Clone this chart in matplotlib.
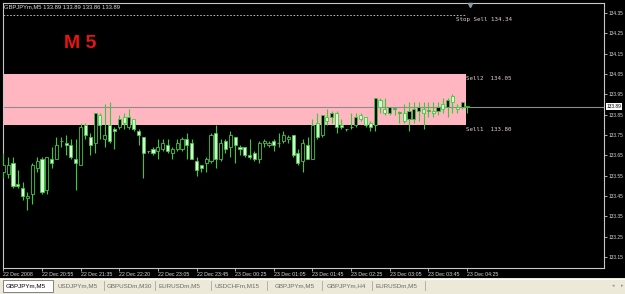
import matplotlib
matplotlib.use('Agg')
import matplotlib.pyplot as plt
from matplotlib.patches import Rectangle
import matplotlib.transforms as mtransforms
import numpy as np

# GBPJPYm, M5 candles
opens = [133.57, 133.56, 133.61, 133.51, 133.49, 133.44, 133.46, 133.59, 133.63, 133.48,
         133.63, 133.63, 133.72, 133.71, 133.70, 133.63, 133.60, 133.80, 133.74, 133.71,
         133.85, 133.73, 133.80, 133.78, 133.79, 133.84, 133.79, 133.83, 133.77, 133.74,
         133.67, 133.68, 133.67, 133.68, 133.70, 133.66, 133.68, 133.68, 133.73, 133.71,
         133.62, 133.60, 133.61, 133.62, 133.76, 133.63, 133.72, 133.69, 133.74, 133.69,
         133.69, 133.65, 133.66, 133.63, 133.71, 133.70, 133.72, 133.71, 133.72, 133.73,
         133.75, 133.66, 133.62, 133.70, 133.63, 133.81, 133.75, 133.84, 133.84, 133.86,
         133.80, 133.78, 133.79, 133.80, 133.85, 133.84, 133.81, 133.80, 133.92, 133.88,
         133.86, 133.88, 133.86, 133.86, 133.83, 133.83, 133.87, 133.88, 133.87, 133.87,
         133.87, 133.90, 133.89, 133.94, 133.89, 133.89, 133.89]
highs = [133.66, 133.64, 133.64, 133.58, 133.52, 133.47, 133.61, 133.64, 133.64, 133.64,
         133.69, 133.74, 133.74, 133.75, 133.73, 133.73, 133.81, 133.81, 133.76, 133.86,
         133.86, 133.90, 133.91, 133.79, 133.85, 133.86, 133.88, 133.83, 133.78, 133.74,
         133.67, 133.69, 133.73, 133.73, 133.73, 133.69, 133.73, 133.74, 133.76, 133.73,
         133.64, 133.60, 133.64, 133.76, 133.80, 133.73, 133.73, 133.77, 133.74, 133.70,
         133.69, 133.73, 133.67, 133.72, 133.73, 133.72, 133.73, 133.76, 133.77, 133.75,
         133.75, 133.68, 133.73, 133.74, 133.83, 133.86, 133.85, 133.88, 133.87, 133.87,
         133.83, 133.78, 133.86, 133.86, 133.86, 133.84, 133.82, 133.93, 133.93, 133.93,
         133.89, 133.88, 133.87, 133.90, 133.91, 133.91, 133.91, 133.91, 133.91, 133.91,
         133.91, 133.93, 133.93, 133.95, 133.90, 133.91, 133.89]
lows = [133.54, 133.54, 133.49, 133.49, 133.43, 133.38, 133.41, 133.57, 133.46, 133.46,
        133.59, 133.63, 133.69, 133.65, 133.63, 133.48, 133.60, 133.73, 133.65, 133.66,
        133.73, 133.69, 133.71, 133.68, 133.78, 133.78, 133.78, 133.77, 133.70, 133.54,
        133.66, 133.65, 133.63, 133.67, 133.66, 133.63, 133.67, 133.67, 133.63, 133.63,
        133.55, 133.57, 133.57, 133.61, 133.59, 133.62, 133.66, 133.64, 133.61, 133.65,
        133.64, 133.63, 133.62, 133.61, 133.69, 133.69, 133.67, 133.69, 133.71, 133.71,
        133.64, 133.60, 133.57, 133.63, 133.63, 133.73, 133.74, 133.80, 133.81, 133.76,
        133.78, 133.77, 133.78, 133.79, 133.82, 133.79, 133.77, 133.77, 133.86, 133.85,
        133.85, 133.85, 133.81, 133.81, 133.77, 133.81, 133.82, 133.78, 133.84, 133.84,
        133.85, 133.86, 133.84, 133.86, 133.86, 133.88, 133.86]
closes = [133.60, 133.60, 133.50, 133.50, 133.45, 133.45, 133.60, 133.62, 133.47, 133.64,
          133.61, 133.70, 133.72, 133.70, 133.64, 133.61, 133.79, 133.75, 133.70, 133.86,
          133.80, 133.75, 133.72, 133.77, 133.83, 133.81, 133.84, 133.78, 133.75, 133.66,
          133.67, 133.66, 133.69, 133.71, 133.67, 133.68, 133.71, 133.73, 133.70, 133.63,
          133.58, 133.59, 133.63, 133.75, 133.63, 133.71, 133.68, 133.75, 133.70, 133.68,
          133.65, 133.64, 133.63, 133.71, 133.72, 133.71, 133.70, 133.71, 133.75, 133.74,
          133.65, 133.61, 133.71, 133.63, 133.80, 133.74, 133.85, 133.82, 133.86, 133.79,
          133.79, 133.78, 133.79, 133.84, 133.83, 133.80, 133.79, 133.93, 133.89, 133.86,
          133.89, 133.88, 133.86, 133.82, 133.87, 133.88, 133.89, 133.86, 133.87, 133.86,
          133.89, 133.88, 133.92, 133.91, 133.88, 133.91, 133.89]

time_labels = ['22 Dec 2008', '22 Dec 20:55', '22 Dec 21:35', '22 Dec 22:20',
               '22 Dec 23:05', '22 Dec 23:45', '23 Dec 00:25', '23 Dec 01:05',
               '23 Dec 01:45', '23 Dec 02:25', '23 Dec 03:05', '23 Dec 03:45',
               '23 Dec 04:25']
price_ticks = [133.15, 133.25, 133.35, 133.45, 133.55, 133.65, 133.75,
               133.85, 133.95, 134.05, 134.15, 134.25, 134.35]

symbol = 'GBPJPYm,M5'
bid = 133.89
sell1 = 133.80
sell2 = 134.05
stop_sell = 134.34

tabs = ['GBPJPYm,M5', 'USDJPYm,M5', 'GBPUSDm,M30', 'EURUSDm,M5',
        'USDCHFm,M15', 'GBPJPYm,M5', 'GBPJPYm,H4', 'EURUSDm,M5']

W, H = 625, 294
LIME = '#3acb3a'
PALE = '#d6fcd6'
GREY_TXT = '#d8d8d8'
SMALL = 'Liberation Sans'

fig = plt.figure(figsize=(W / 100, H / 100), dpi=100, facecolor='black')

# main chart panel (pixel box 2.5..604 x 2.5..267.5)
ax = fig.add_axes([2.5 / W, 1 - 267.5 / H, 601.5 / W, 265 / H], facecolor='black')

o = np.array(opens)
hi = np.array(highs)
lo = np.array(lows)
c = np.array(closes)
n = len(o)
x = np.arange(n)

ax.set_xlim(-0.17, 124.37)
ax.set_ylim(133.0982, 134.4017)
x0 = ax.get_xlim()[0]

# Sell zone rectangle and levels
last = n - 1
ax.add_patch(Rectangle((x0, sell1), last - 0.2 - x0, sell2 - sell1,
                       facecolor='#ffb6c1', edgecolor='none', zorder=1))
ax.axhline(bid, color='#8c8c8c', lw=0.8, zorder=2)
ax.plot([x0, last - 0.4], [stop_sell, stop_sell], color='#d0d0d0',
        lw=0.6, ls=(0, (2, 2)), zorder=2)

lbl_style = dict(fontsize=4.2, family='DejaVu Sans Mono', color='#e6cfd2', va='top', ha='left')
ax.annotate('Stop Sell %.2f' % stop_sell, xy=(last - 2.3, stop_sell), xytext=(0, -2),
            textcoords='offset pixels', **lbl_style)
ax.annotate('Sell2  %.2f' % sell2, xy=(last - 0.2, sell2), xytext=(0, -2),
            textcoords='offset pixels', **lbl_style)
ax.annotate('Sell1  %.2f' % sell1, xy=(last - 0.2, sell1), xytext=(0, -2),
            textcoords='offset pixels', **lbl_style)

# candles: bull = dark body, bear = pale body (MT4 default)
bull = c >= o
body_lo = np.minimum(o, c)
body_h = np.maximum(np.abs(c - o), 0.0015)
ax.vlines(x, lo, hi, color=LIME, lw=0.8, zorder=3)
ax.bar(x, body_h, bottom=body_lo, width=0.64,
       color=np.where(bull, 'black', PALE), edgecolor=LIME, linewidth=0.6, zorder=4)

# chart shift marker
ax.plot(last + 0.7, 134.39, marker='v', ms=3, color='#8a98a8', clip_on=False, zorder=5)

# axes styling
for s in ax.spines.values():
    s.set_color('#c8c8c8')
    s.set_linewidth(0.8)
ax.yaxis.tick_right()
ax.set_yticks(price_ticks)
ax.set_yticklabels(['%.2f' % p for p in price_ticks], family=SMALL)
ax.set_xticks(np.arange(0, n, 8))
ax.set_xticklabels(time_labels, ha='left', family=SMALL)
ax.tick_params(axis='y', length=2, width=0.6, color='#c8c8c8', labelsize=3.5,
               labelcolor=GREY_TXT, pad=1)
ax.tick_params(axis='x', length=2, width=0.6, color='#c8c8c8', labelsize=3.8,
               labelcolor=GREY_TXT, pad=1)

# current bid label on the price scale
tr = mtransforms.blended_transform_factory(ax.transAxes, ax.transData)
ax.text(1.004, bid, '%.2f' % bid, transform=tr, fontsize=3.5, family=SMALL, color='black',
        va='center', ha='left', bbox=dict(facecolor='white', edgecolor='none', pad=0.6),
        clip_on=False, zorder=6)

# header and timeframe caption
fig.text(4 / W, 1 - 7 / H, '%s %.2f %.2f %.2f %.2f' % (symbol, opens[-1], highs[-1], lows[-1], closes[-1]),
         fontsize=4.2, family=SMALL, color='#e0e0e0', va='center', ha='left')
fig.text(64 / W, 1 - 44 / H, 'M 5', fontsize=14, fontweight='bold', family='Liberation Sans',
         color='#e81414', va='center', ha='left')

# tab strip at the bottom
tab_ax = fig.add_axes([0, 0, 1, 16 / H], facecolor='#ece9d8')
tab_ax.set_xlim(0, W)
tab_ax.set_ylim(294, 278)
tab_ax.set_xticks([])
tab_ax.set_yticks([])
for s in tab_ax.spines.values():
    s.set_visible(False)
tab_ax.axhline(278.5, color='#fbfaf5', lw=0.8)

tab_x = [25.5, 78, 129, 179.5, 237, 295, 346.5, 396.5]
seps = [104, 155, 211, 267, 322, 372, 425]
tab_ax.add_patch(Rectangle((3, 279.5), 50, 12.5, facecolor='white', edgecolor='#707070', lw=0.6))
for i, (t, tx) in enumerate(zip(tabs, tab_x)):
    tab_ax.text(tx, 285.5, t, fontsize=4.5, family=SMALL, ha='center', va='center',
                color='black' if i == 0 else '#6a6a6a')
for sx in seps:
    tab_ax.plot([sx, sx], [281, 290], color='#a8a8a0', lw=0.6)
tab_ax.text(613, 285.5, '\u25c2', fontsize=3.5, ha='center', va='center', color='#909090')
tab_ax.text(622, 285.5, '\u25b8', fontsize=3.5, ha='center', va='center', color='#909090')

fig.savefig('out.png', dpi=100, facecolor=fig.get_facecolor())
